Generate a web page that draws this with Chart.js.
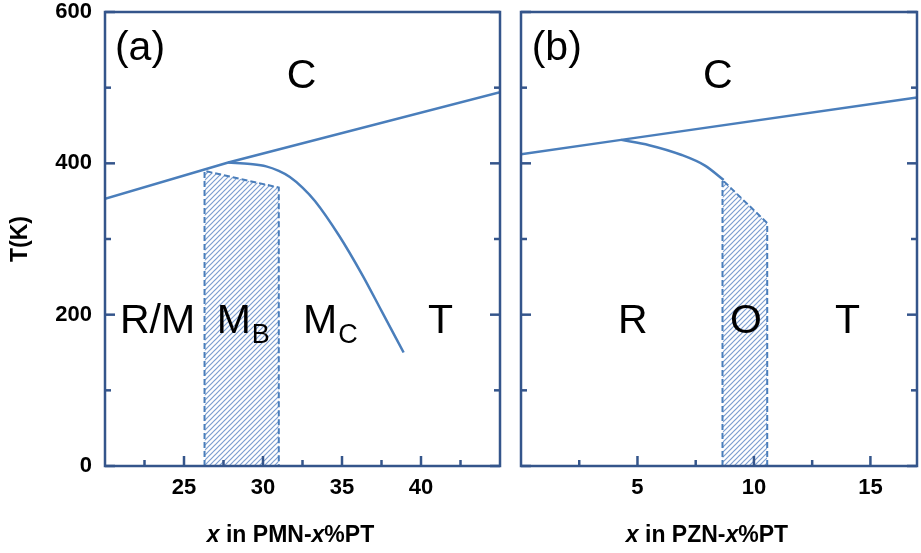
<!DOCTYPE html>
<html>
<head>
<meta charset="utf-8">
<script src="https://cdn.jsdelivr.net/npm/chart.js@4.4.1/dist/chart.umd.min.js"></script>
<style>
  html, body { margin: 0; padding: 0; background: #fff; }
  #wrap { position: relative; width: 921px; height: 553px; }
  canvas { position: absolute; top: 0; }
  #left { left: 0; }
  #right { left: 510px; }
</style>
</head>
<body>
<div id="wrap">
  <canvas id="left" width="510" height="553"></canvas>
  <canvas id="right" width="411" height="553"></canvas>
</div>
<script>
const FONT = "'Liberation Sans', Arial, sans-serif";
const LINE = '#4A7EBB';
const FRAME = '#34558B';

// temperature axis (K)
const tempTicks = [0, 200, 400, 600];
const tempMinor = [100, 300, 500];

// (a) PMN-x%PT
const pmnTicks = [25, 30, 35, 40];
const pmnMinor = [22.5, 27.5, 32.5, 37.5, 42.5];
const pmnCubicX = [20, 27.8, 45];
const pmnCubicT = [353, 401, 494];
const pmnMcX = [27.8, 29.2, 30.2, 31.0, 31.7, 32.5, 33.3, 34.8, 36.3, 37.5, 38.9];
const pmnMcT = [401, 399, 396, 390, 382, 368, 350, 305, 252, 205, 150];
const pmnMbX = [26.3, 26.3, 31.0, 31.0];
const pmnMbT = [0, 390, 368, 0];

// (b) PZN-x%PT
const pznTicks = [5, 10, 15];
const pznMinor = [2.5, 7.5, 12.5];
const pznCubicX = [0, 4.3, 17];
const pznCubicT = [412, 431, 487];
const pznRX = [4.3, 5.5, 6.9, 7.9, 8.7];
const pznRT = [431, 424, 411, 397, 378];
const pznOX = [8.65, 8.65, 10.57, 10.57];
const pznOT = [0, 378, 321, 0];

// phase names: text, subscript, x, T at baseline
const pmnLabels = [
  ['(a)', '', 20.63, 537],
  ['C', '', 31.5, 500],
  ['R/M', '', 20.95, 176],
  ['M', 'B', 27.07, 176],
  ['M', 'C', 32.53, 176],
  ['T', '', 40.44, 176]
];
const pznLabels = [
  ['(b)', '', 0.46, 537],
  ['C', '', 7.81, 500],
  ['R', '', 4.16, 176],
  ['O', '', 8.97, 176],
  ['T', '', 13.48, 176]
];

function pts(xs, ys) {
  return xs.map((x, i) => ({ x: x, y: ys[i] }));
}

function hatch() {
  const c = document.createElement('canvas');
  c.width = 5; c.height = 5;
  const g = c.getContext('2d');
  g.strokeStyle = '#7C9ED0';
  g.lineWidth = 1.2;
  g.beginPath();
  g.moveTo(-1, 6); g.lineTo(6, -1);
  g.moveTo(-1, 1); g.lineTo(1, -1);
  g.moveTo(4, 6); g.lineTo(6, 4);
  g.stroke();
  return g.createPattern(c, 'repeat');
}

function framePlugin(cfg) {
  return {
    id: 'frame',
    afterDatasetsDraw(chart) {
      const ctx = chart.ctx, a = chart.chartArea;
      const x = chart.scales.x, y = chart.scales.y;
      ctx.save();
      ctx.strokeStyle = FRAME;
      ctx.lineWidth = 2.5;
      ctx.strokeRect(a.left, a.top, a.right - a.left, a.bottom - a.top);

      const tick = (x1, y1, x2, y2) => {
        ctx.beginPath(); ctx.moveTo(x1, y1); ctx.lineTo(x2, y2); ctx.stroke();
      };
      [[tempTicks, 10], [tempMinor, 6]].forEach(([vals, len]) => vals.forEach(v => {
        const py = y.getPixelForValue(v);
        tick(a.left, py, a.left + len, py);
        tick(a.right, py, a.right - len, py);
      }));
      [[cfg.major, 10], [cfg.minor, 6]].forEach(([vals, len]) => vals.forEach(v => {
        const px = x.getPixelForValue(v);
        tick(px, a.bottom, px, a.bottom - len);
      }));

      // phase names
      ctx.fillStyle = '#000';
      ctx.textBaseline = 'alphabetic';
      ctx.textAlign = 'left';
      cfg.labels.forEach(([t, sub, vx, vy]) => {
        const px = x.getPixelForValue(vx), py = y.getPixelForValue(vy);
        ctx.font = '41px ' + FONT;
        ctx.fillText(t, px, py);
        if (sub) {
          const w = ctx.measureText(t).width;
          ctx.font = '27px ' + FONT;
          ctx.fillText(sub, px + w + 1, py + 10);
        }
      });

      // x axis title with italic x
      const parts = [['x', true], [' in ' + cfg.name + '-', false], ['x', true], ['%PT', false]];
      const fontOf = it => (it ? 'italic ' : '') + 'bold 23px ' + FONT;
      let total = 0;
      parts.forEach(([t, it]) => { ctx.font = fontOf(it); total += ctx.measureText(t).width; });
      let cx = (a.left + a.right) / 2 - 12 - total / 2;
      ctx.textBaseline = 'middle';
      parts.forEach(([t, it]) => {
        ctx.font = fontOf(it);
        ctx.fillText(t, cx, a.bottom + 70);
        cx += ctx.measureText(t).width;
      });
      ctx.restore();
    }
  };
}

function makeChart(id, cfg) {
  const noGrid = { drawOnChartArea: false, drawTicks: false };
  return new Chart(document.getElementById(id), {
    type: 'line',
    data: {
      datasets: [
        { data: pts(cfg.phaseX, cfg.phaseT), borderColor: LINE, borderWidth: 2, borderDash: [6, 3],
          backgroundColor: hatch(), fill: 'origin', order: 2 },
        { data: pts(cfg.cubicX, cfg.cubicT), borderColor: LINE, borderWidth: 2.5, fill: false, order: 1 },
        { data: pts(cfg.curveX, cfg.curveT), borderColor: LINE, borderWidth: 2.5, fill: false,
          cubicInterpolationMode: 'monotone', order: 1 }
      ]
    },
    options: {
      responsive: false,
      animation: false,
      devicePixelRatio: 1,
      layout: { padding: { left: 0, top: 12, right: cfg.rightPad, bottom: 0 } },
      elements: { point: { radius: 0, hoverRadius: 0 } },
      plugins: { legend: { display: false }, tooltip: { enabled: false } },
      scales: {
        x: {
          type: 'linear', min: cfg.min, max: cfg.max,
          afterBuildTicks: s => { s.ticks = cfg.major.map(v => ({ value: v })); },
          afterFit: s => { s.height = 87; s.paddingLeft = 0; s.paddingRight = 0; },
          grid: noGrid, border: { display: false },
          ticks: { font: { family: FONT, size: 22, weight: 'bold' }, color: '#000', padding: 9, maxRotation: 0 }
        },
        y: {
          type: 'linear', min: 0, max: 600,
          afterBuildTicks: s => { s.ticks = tempTicks.map(v => ({ value: v })); },
          afterFit: s => { s.width = cfg.yWidth; s.paddingTop = 0; s.paddingBottom = 0; },
          grid: noGrid, border: { display: false },
          ticks: { display: cfg.yLabels, font: { family: FONT, size: 22, weight: 'bold' },
            color: '#000', padding: 13 },
          title: { display: cfg.yLabels, text: 'T(K)', color: '#000',
            font: { family: FONT, size: 23, weight: 'bold' }, padding: { top: 7, bottom: 0 } }
        }
      }
    },
    plugins: [framePlugin(cfg)]
  });
}

makeChart('left', {
  name: 'PMN', min: 20, max: 45, major: pmnTicks, minor: pmnMinor, labels: pmnLabels,
  phaseX: pmnMbX, phaseT: pmnMbT, cubicX: pmnCubicX, cubicT: pmnCubicT, curveX: pmnMcX, curveT: pmnMcT,
  yWidth: 105, yLabels: true, rightPad: 10
});

makeChart('right', {
  name: 'PZN', min: 0, max: 17, major: pznTicks, minor: pznMinor, labels: pznLabels,
  phaseX: pznOX, phaseT: pznOT, cubicX: pznCubicX, cubicT: pznCubicT, curveX: pznRX, curveT: pznRT,
  yWidth: 11, yLabels: false, rightPad: 4
});
</script>
</body>
</html>
